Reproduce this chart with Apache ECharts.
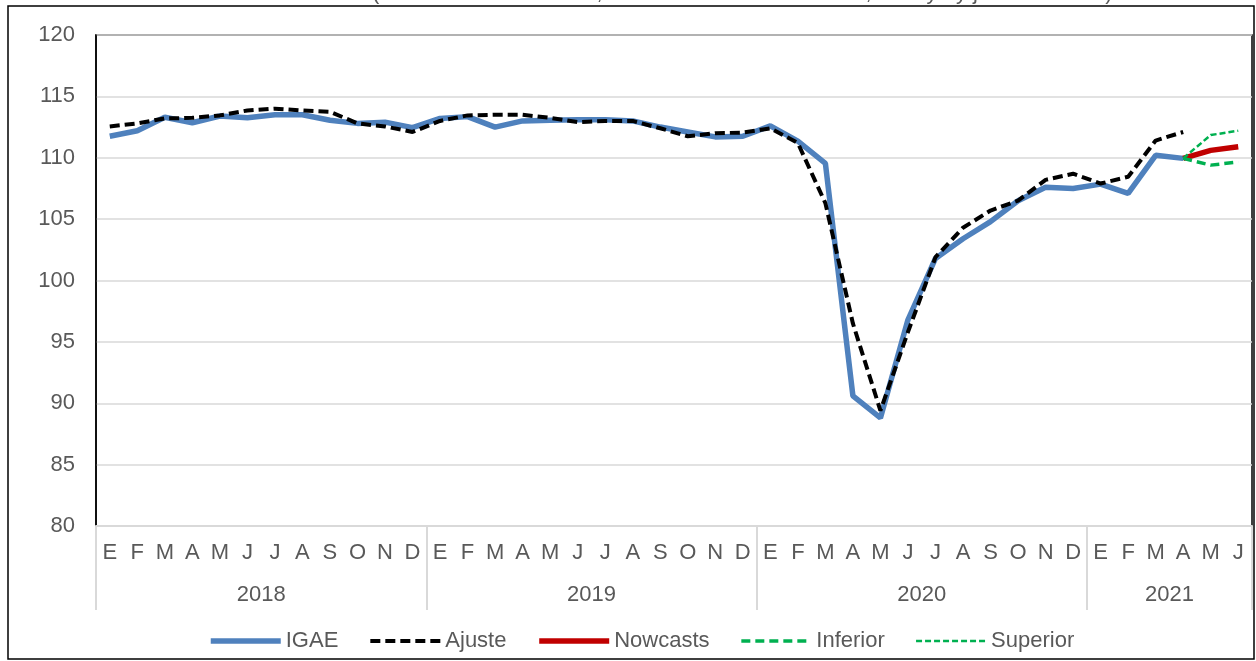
<!DOCTYPE html>
<html>
<head>
<meta charset="utf-8">
<script src="https://cdn.jsdelivr.net/npm/echarts@6/dist/echarts.min.js"></script>
<style>
  html, body { margin: 0; padding: 0; background: #fff; }
  #chart { width: 1256px; height: 661px; }
</style>
</head>
<body>
<div id="chart"></div>
<script>
// meses (E = enero ... D = diciembre), 2018-01 a 2021-06
const meses = ['E','F','M','A','M','J','J','A','S','O','N','D']
const anios = ['2018', '2019', '2020', '2021']
const categorias = [].concat(meses, meses, meses, meses.slice(0, 6))

// posicion (en meses) de inicio de cada año y centro de su etiqueta
const cortesAnio = [0, 12, 24, 36, 42]
const centrosAnio = [6, 18, 30, 39]

const igae = [
  111.75, 112.2, 113.3, 112.85, 113.4, 113.25, 113.5, 113.5, 113.05, 112.8, 112.9, 112.45,
  113.2, 113.35, 112.5, 113.0, 113.05, 113.1, 113.1, 113.0, 112.5, 112.1, 111.7, 111.75,
  112.6, 111.35, 109.55, 90.6, 88.8, 96.8, 101.8, 103.4, 104.8, 106.5, 107.6, 107.5,
  107.85, 107.1, 110.2, 109.95, null, null
]
const ajuste = [
  112.55, 112.8, 113.2, 113.25, 113.45, 113.85, 114.0, 113.85, 113.75, 112.8, 112.55, 112.1,
  113.0, 113.45, 113.5, 113.5, 113.25, 112.9, 113.0, 113.0, 112.4, 111.75, 112.0, 112.05,
  112.4, 111.2, 106.3, 96.5, 89.4, 95.8, 101.9, 104.3, 105.7, 106.5, 108.2, 108.7,
  107.9, 108.45, 111.4, 112.1, null, null
]
const nowcasts = [].concat(new Array(39).fill(null), [109.95, 110.6, 110.9])
const inferior = [].concat(new Array(39).fill(null), [109.95, 109.4, 109.65])
const superior = [].concat(new Array(39).fill(null), [109.95, 111.85, 112.2])

const gris = '#595959'
const fuente = 'Liberation Sans, Arial, sans-serif'

const chart = echarts.init(document.getElementById('chart'))

const option = {
  animation: false,
  textStyle: { fontFamily: fuente },
  graphic: [
    {
      type: 'rect',
      shape: { x: 8, y: 6, width: 1246, height: 653 },
      style: { fill: 'none', stroke: '#000', lineWidth: 1.5 },
      z: 100
    },
    {
      type: 'text',
      left: 372,
      top: -18,
      style: {
        text: '(Índice base 2013=100, cifras desestacionalizadas, a mayo y junio de 2021)',
        font: '22px ' + fuente,
        fill: gris
      }
    }
  ],
  grid: {
    left: 96,
    right: 4,
    top: 35,
    bottom: 135,
    show: true,
    borderColor: '#000',
    borderWidth: 1.5
  },
  legend: {
    left: 203,
    top: 625,
    itemWidth: 70,
    itemHeight: 14,
    itemGap: 30,
    itemStyle: { opacity: 0 },
    lineStyle: { width: 'inherit' },
    textStyle: { fontSize: 22, color: gris, fontFamily: fuente },
    data: ['IGAE', 'Ajuste', 'Nowcasts', 'Inferior', 'Superior']
  },
  xAxis: [
    {
      type: 'category',
      data: categorias,
      boundaryGap: true,
      axisLine: { lineStyle: { color: '#D9D9D9', width: 2 } },
      axisTick: { show: false },
      axisLabel: {
        interval: 0,
        margin: 16,
        fontSize: 22,
        color: gris,
        fontFamily: fuente
      },
      splitLine: { show: false }
    },
    {
      type: 'value',
      position: 'bottom',
      min: 0,
      max: 42,
      axisLine: { show: false },
      axisTick: {
        show: true,
        length: 84,
        customValues: cortesAnio,
        lineStyle: { color: '#D9D9D9', width: 2 }
      },
      axisLabel: {
        margin: 58,
        fontSize: 22,
        color: gris,
        fontFamily: fuente,
        customValues: centrosAnio,
        formatter: function (v) {
          return anios[centrosAnio.indexOf(v)]
        }
      },
      splitLine: { show: false }
    }
  ],
  yAxis: {
    type: 'value',
    min: 80,
    max: 120,
    interval: 5,
    axisLine: { show: true, lineStyle: { color: '#000', width: 1.5 } },
    axisTick: { show: false },
    axisLabel: { margin: 21, fontSize: 22, color: gris, fontFamily: fuente },
    splitLine: { lineStyle: { color: '#D9D9D9', width: 1.5 } }
  },
  series: [
    {
      name: 'IGAE',
      type: 'line',
      data: igae,
      symbol: 'none',
      lineStyle: { color: '#4F81BD', width: 5.5 },
      itemStyle: { color: '#4F81BD' },
      z: 2
    },
    {
      name: 'Ajuste',
      type: 'line',
      data: ajuste,
      symbol: 'none',
      lineStyle: { color: '#000', width: 4, type: [10, 5] },
      itemStyle: { color: '#000' },
      z: 3
    },
    {
      name: 'Nowcasts',
      type: 'line',
      data: nowcasts,
      symbol: 'none',
      lineStyle: { color: '#C00000', width: 5.5 },
      itemStyle: { color: '#C00000' },
      z: 4
    },
    {
      name: 'Inferior',
      type: 'line',
      data: inferior,
      symbol: 'none',
      lineStyle: { color: '#00B050', width: 3.5, type: [9, 5] },
      itemStyle: { color: '#00B050' },
      z: 5
    },
    {
      name: 'Superior',
      type: 'line',
      data: superior,
      symbol: 'none',
      lineStyle: { color: '#00B050', width: 2.5, type: [6, 3] },
      itemStyle: { color: '#00B050' },
      z: 5
    }
  ]
}

chart.setOption(option)
</script>
</body>
</html>
